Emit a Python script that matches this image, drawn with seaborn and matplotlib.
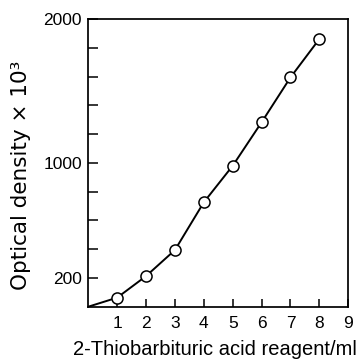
import matplotlib
matplotlib.use("Agg")
import matplotlib.pyplot as plt
import seaborn as sns
import pandas as pd
from matplotlib.ticker import FixedLocator, FixedFormatter

# Reagent volume (ml) and measured optical density (x 10^3)
reagent_ml = [1, 2, 3, 4, 5, 6, 7, 8]
optical_density = [63, 213, 394, 726, 980, 1282, 1594, 1861]

# The curve is drawn from the origin through the measured points
curve_x = [0] + reagent_ml
curve_y = [0] + optical_density

x_ticks = [1, 2, 3, 4, 5, 6, 7, 8, 9]
y_ticks = [200, 400, 600, 800, 1000, 1200, 1400, 1600, 1800, 2000]
y_tick_labels = ["200", "", "", "", "1000", "", "", "", "", "2000"]

sns.set_theme(style="white")
plt.rcParams["font.family"] = ["Liberation Sans", "DejaVu Sans"]

fig = plt.figure(figsize=(3.59, 3.59), dpi=100)
ax = fig.add_axes([0.246, 0.1457, 0.724, 0.8013])

curve = pd.DataFrame({"x": curve_x, "y": curve_y})
points = pd.DataFrame({"x": reagent_ml, "y": optical_density})

sns.lineplot(data=curve, x="x", y="y", ax=ax, color="black", linewidth=1.4,
             estimator=None, sort=False)
ax.plot(points["x"], points["y"], linestyle="none", marker="o", markersize=8.0,
        markerfacecolor="white", markeredgecolor="black", markeredgewidth=1.1,
        zorder=3)

ax.set_xlim(0, 9)
ax.set_ylim(0, 2000)

ax.xaxis.set_major_locator(FixedLocator(x_ticks))
ax.yaxis.set_major_locator(FixedLocator(y_ticks))
ax.yaxis.set_major_formatter(FixedFormatter(y_tick_labels))

ax.tick_params(axis="x", direction="in", length=5.5, width=1.1, color="black",
               labelsize=12.5, pad=6.5, bottom=True, top=False,
               labelcolor="black")
ax.tick_params(axis="y", direction="in", length=7.5, width=1.1, color="black",
               labelsize=12.5, pad=4.5, left=True, right=False,
               labelcolor="black")

for spine in ax.spines.values():
    spine.set_color("black")
    spine.set_linewidth(1.25)
    spine.set_visible(True)

ax.set_xlabel("2-Thiobarbituric acid reagent/ml", fontsize=14.5, color="black")
ax.set_ylabel("Optical density × 10³", fontsize=15.5, color="black",
              family=["DejaVu Sans"])
ax.xaxis.set_label_coords(0.487, -0.115)
ax.yaxis.set_label_coords(-0.22, 0.456)

fig.savefig("out.png", dpi=100)
